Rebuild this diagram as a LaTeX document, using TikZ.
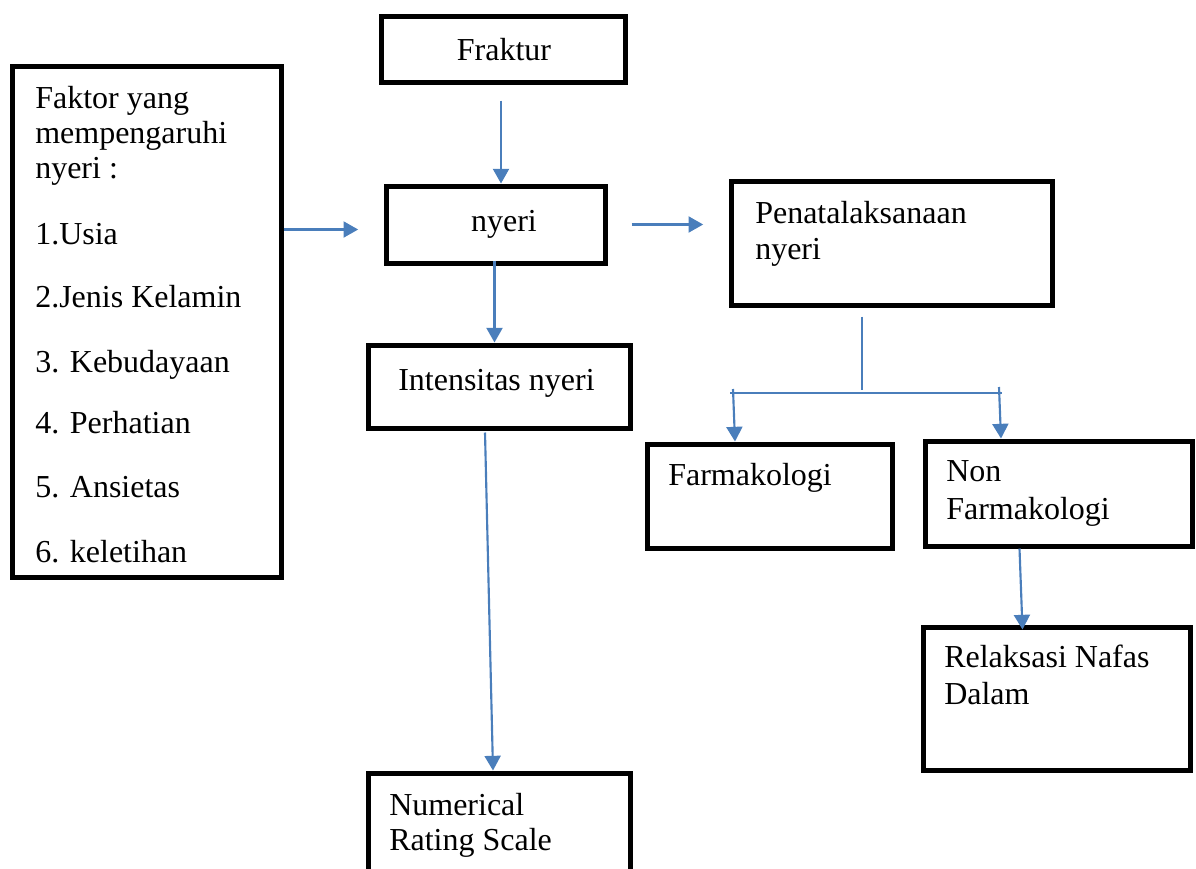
\documentclass[tikz,border=0pt]{standalone}
\usepackage{fontspec}
\setmainfont{Liberation Serif}
\usetikzlibrary{arrows.meta,fit,calc}
\definecolor{linkblue}{RGB}{74,126,187}
\tikzset{
  box/.style={draw, line width=3.75pt, inner sep=0pt},
  txt/.style={anchor=base west, inner sep=0pt, font=\fontsize{24}{27}\selectfont},
  link/.style={draw=linkblue, line width=1.6pt},
  arr/.style={link, -{Triangle[length=11pt,width=12pt]}}
}
\begin{document}
\begin{tikzpicture}[x=0.75pt, y=-0.75pt]
    \clip (0,0) rectangle (1196,868);
    \node[box, fit={(12,66) (281,577)}] (faktor) {};
    \node[box, fit={(381,16) (625,82)}] (fraktur) {};
    \node[box, fit={(386,186) (605,263)}] (nyeri) {};
    \node[box, fit={(731,181) (1052,305)}] (penata) {};
    \node[box, fit={(368,345) (630,428)}] (intens) {};
    \node[box, fit={(647,444) (892,548)}] (farma) {};
    \node[box, fit={(925,441) (1192,546)}] (nonfarma) {};
    \node[box, fit={(923,627) (1190,770)}] (relaks) {};
    \node[box, fit={(368,773) (630,900)}] (nrs) {};

    \foreach \t/\y [count=\i] in {Faktor yang/108, mempengaruhi/143, nyeri :/178,
        1.Usia/244, 2.Jenis Kelamin/307, 3. Kebudayaan/372, 4. Perhatian/433,
        5. Ansietas/497, 6. keletihan/562}
        \node[txt] (faktor\i) at (35,\y) {\t};
    \node[txt, anchor=base] (frakturtxt) at (504,60) {Fraktur};
    \node[txt, anchor=base] (nyeritxt) at (504,231) {nyeri};
    \node[txt] (penatatxt) at (755,223) {Penatalaksanaan};
    \node[txt] (penatatxt2) at (755,259) {nyeri};
    \node[txt] (intenstxt) at (398,390) {Intensitas nyeri};
    \node[txt] (farmatxt) at (668,485) {Farmakologi};
    \node[txt] (nonfarmatxt) at (946,481) {Non};
    \node[txt] (nonfarmatxt2) at (946,519) {Farmakologi};
    \node[txt] (relakstxt) at (944,667) {Relaksasi Nafas};
    \node[txt] (relakstxt2) at (944,704) {Dalam};
    \node[txt] (nrstxt) at (389,815) {Numerical};
    \node[txt] (nrstxt2) at (389,850) {Rating Scale};

    \draw[arr, shorten >=19pt] ($(faktor.east |- nyeri.west)+(0,5)$) -- ($(nyeri.west)+(0,5)$);
    \draw[arr, shorten <=12pt] ($(fraktur.south)+(-2,0)$) -- ($(fraktur.south |- nyeri.north)+(-2,0)$);
    \draw[arr, shorten <=18pt, shorten >=19pt] (nyeri.east) -- (nyeri.east -| penata.west);
    \draw[arr] ($(nyeri.south)+(-1,-5)$) -- ($(nyeri.south |- intens.north)+(-1,0)$);
    \draw[arr] ($(intens.south)+(-14,2)$) -- ($(nrs.north)+(-6,0)$);

    \coordinate (fork) at (862,393);
    \coordinate (forkl) at (733,393);
    \coordinate (forkr) at (1000,393);
    \draw[link] ($(fork |- penata.south)+(0,9)$) -- ($(fork)+(0,-3)$);
    \draw[link] ($(forkl)+(-3,0)$) -- ($(forkr)+(2,0)$);
    \draw[arr] ($(forkl)+(0,-4)$) -- ($(forkl |- farma.north)+(2,0)$);
    \draw[arr] ($(forkr)+(-1,-6)$) -- ($(forkr |- nonfarma.north)+(1,0)$);
    \draw[arr] ($(nonfarma.south)+(-39,0)$) -- ($(relaks.north)+(-34,5)$);
\end{tikzpicture}
\end{document}
